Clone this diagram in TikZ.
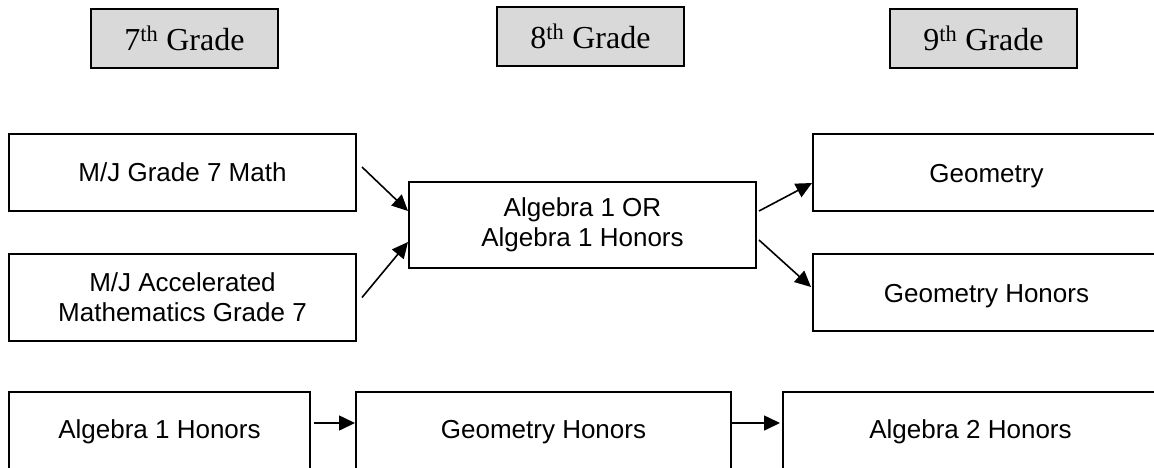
\documentclass[tikz,border=0pt]{standalone}
\usepackage{fontspec}
\setmainfont{Liberation Serif}
\newfontfamily\arialf{Liberation Sans}
\usetikzlibrary{arrows.meta,calc}
\newcommand{\lowered}[1]{\raisebox{-4pt}[\height][\depth]{#1}}
\tikzset{
  gradebox/.style={draw=black,line width=2pt,fill=gray!30,inner sep=0pt,minimum width=187pt,minimum height=59pt,font=\fontsize{32}{36}\selectfont},
  course/.style={draw=black,line width=2pt,fill=white,inner sep=0pt,align=center,font=\arialf\fontsize{26}{30}\selectfont},
  link/.style={line width=1.6pt,-{Triangle[length=16pt,width=15pt]}}
}
\begin{document}
\begin{tikzpicture}[x=1pt,y=-1pt]
\useasboundingbox (0,0) rectangle (1154,467);
\clip (0,0) rectangle (1154,467);
\fill[white] (0,0) rectangle (1154,467);
\node[gradebox] (g7) at (184.5,38.5) {7\textsuperscript{th} Grade};
\node[gradebox] (g8) at (590.5,36.5) {8\textsuperscript{th} Grade};
\node[gradebox] (g9) at (983.5,38.5) {9\textsuperscript{th} Grade};
\node[course,minimum width=347pt,minimum height=77pt] (mj7) at (182.5,172.5) {M/J Grade 7 Math};
\node[course,minimum width=347pt,minimum height=87pt] (acc) at (182.5,297.5) {M/J Accelerated\\Mathematics Grade 7};
\node[course,minimum width=347pt,minimum height=86pt] (alg) at (582.5,225) {Algebra 1 OR\\Algebra 1 Honors};
\node[course,minimum width=347pt,minimum height=77pt] (geo) at (986.5,172.5) {\lowered{Geometry}};
\node[course,minimum width=347pt,minimum height=77pt] (geoh) at (986.5,292.5) {\lowered{Geometry Honors}};
\node[course,minimum width=301pt,minimum height=80pt] (a1h) at (159.5,432) {Algebra 1 Honors};
\node[course,minimum width=375pt,minimum height=80pt] (gh8) at (543.5,432) {Geometry Honors};
\node[course,minimum width=375pt,minimum height=80pt] (a2h) at (970.5,432) {Algebra 2 Honors};
\draw[link] ($(mj7.east)+(5,-5.5)$) -- ($(alg.west)+(0,-14)$);
\draw[link] ($(acc.east)+(5,0)$) -- ($(alg.west)+(0,17)$);
\draw[link] ($(alg.east)+(2,-14)$) -- ($(geo.west)+(0,10.5)$);
\draw[link] ($(alg.east)+(2,15)$) -- ($(geoh.west)+(-1,-5.5)$);
\draw[link] ($(a1h.east)+(3,-9)$) -- ($(gh8.west)+(0,-9)$);
\draw[link] ($(gh8.east)+(0,-9)$) -- ($(a2h.west)+(-2,-9)$);
\end{tikzpicture}
\end{document}
